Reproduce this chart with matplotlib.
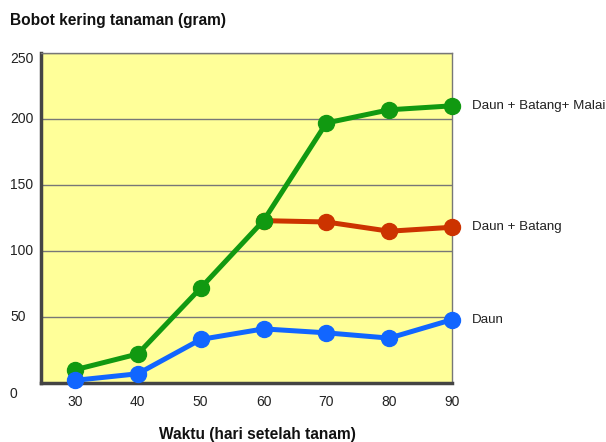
import matplotlib
matplotlib.use("Agg")
from matplotlib import pyplot as plt
import matplotlib.transforms as mtransforms

plt.rcParams['font.family'] = ['Liberation Sans', 'DejaVu Sans']

hari = [30, 40, 50, 60, 70, 80, 90]
daun_batang_malai = [10, 22, 72, 123, 197, 207, 210]
hari_batang = [60, 70, 80, 90]
daun_batang = [123, 122, 115, 118]
daun = [2, 7, 33, 41, 38, 34, 48]
y_ticks = [0, 50, 100, 150, 200, 250]

fig = plt.figure(figsize=(6.06, 4.42), dpi=100)
ax = fig.add_axes([0.0677, 0.1335, 0.746 - 0.0677, 0.880 - 0.1335])
ax.set_facecolor('#ffff99')

ax.plot(hari_batang, daun_batang, color='#cc3300', lw=3.6, marker='o', ms=11.5,
        zorder=3, clip_on=False)
ax.plot(hari, daun_batang_malai, color='#119911', lw=3.6, marker='o', ms=11.5,
        zorder=4, clip_on=False)
ax.plot(hari, daun, color='#1166ff', lw=3.6, marker='o', ms=11.5,
        zorder=5, clip_on=False)

ax.set_xlim(24.6, 90)
ax.set_ylim(0, 250)
for y in y_ticks[1:]:
    ax.axhline(y, color='#777777', lw=1, zorder=1)

for s in ['top', 'right']:
    ax.spines[s].set_color('#777777')
    ax.spines[s].set_linewidth(1)
for s in ['left', 'bottom']:
    ax.spines[s].set_color('#444444')
    ax.spines[s].set_linewidth(2.5)

ax.tick_params(length=0)
ax.set_xticks(hari)
ax.set_xticklabels([str(h) for h in hari], fontsize=10, color='#222222')
ax.tick_params(axis='x', pad=9)
ax.set_yticks([])

# y labels sit left of the axis, the outer ones a bit lower
trans = mtransforms.blended_transform_factory(fig.transFigure, ax.transData)
for y in y_ticks:
    dy = {0: -11, 250: -6}.get(y, 0) * 0.72
    ax.annotate(str(y), xy=(10 / 606, y), xycoords=trans, xytext=(0, dy),
                textcoords='offset points', ha='left', va='center',
                fontsize=10, color='#222222', annotation_clip=False)

# labels at the end of each line
ax.text(472 / 606, daun_batang_malai[-1], 'Daun + Batang+ Malai', transform=trans,
        fontsize=9.6, va='center', ha='left', color='#222222')
ax.text(472 / 606, daun_batang[-1], 'Daun + Batang', transform=trans,
        fontsize=9.6, va='center', ha='left', color='#222222')
ax.text(472 / 606, daun[-1], 'Daun', transform=trans,
        fontsize=9.6, va='center', ha='left', color='#222222')

fig.text(10 / 606, 1 - 20 / 442, 'Bobot kering tanaman (gram)', fontsize=11.2,
         fontweight='bold', va='center', ha='left', color='#111111')
fig.text(257 / 606, 1 - 435 / 442, 'Waktu (hari setelah tanam)', fontsize=11.2,
         fontweight='bold', va='center', ha='center', color='#111111')

plt.savefig('out.png', dpi=100)
